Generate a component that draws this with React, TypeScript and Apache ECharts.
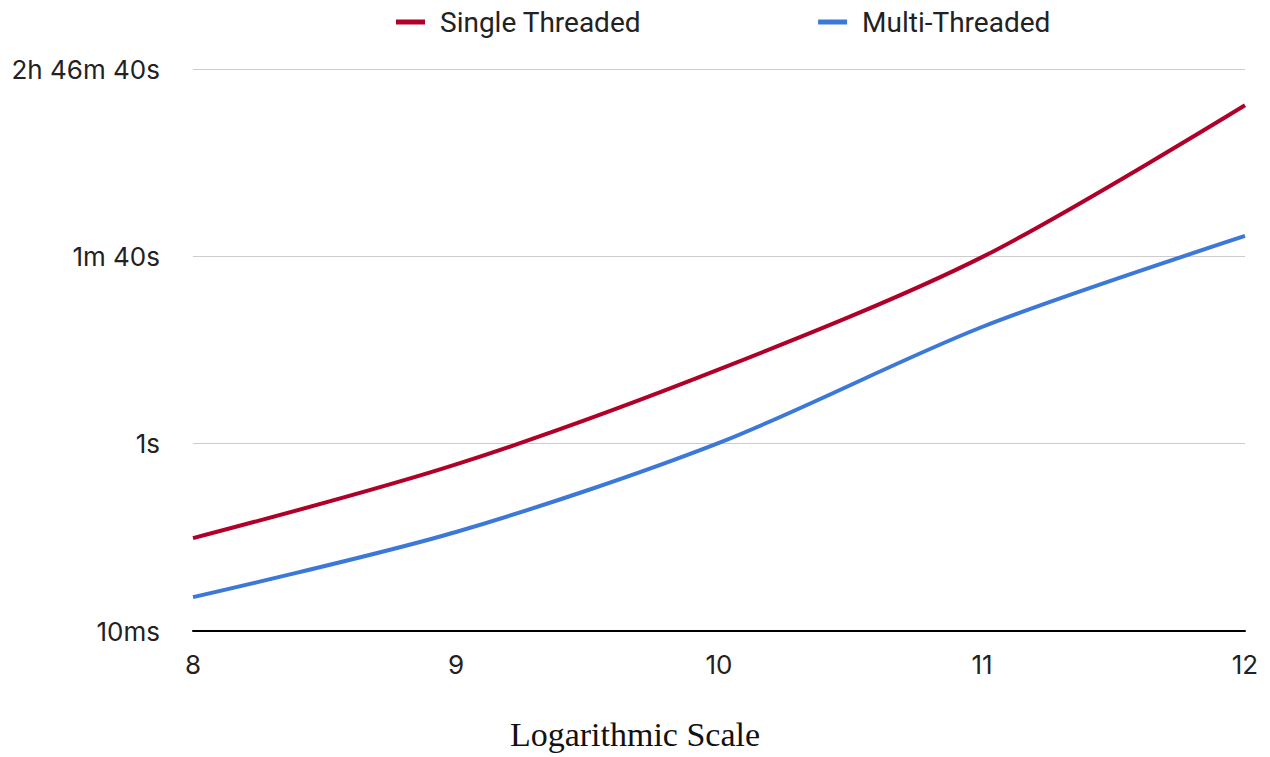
import React, { useEffect, useRef } from "react";
import * as echarts from "echarts";

const categories = ["8", "9", "10", "11", "12"];
const singleThreaded = [0.098, 0.6, 6.2, 98, 4100];
const multiThreaded = [0.023, 0.114, 1.02, 17.6, 165];
const yTickValues = [0.01, 1, 100, 10000];
const yTickLabels = ["10ms", "1s", "1m 40s", "2h 46m 40s"];

export default function App() {
  const ref = useRef<HTMLDivElement>(null);
  useEffect(() => {
    if (!ref.current) return;
    const chart = echarts.init(ref.current, undefined, { renderer: "svg" });
    const labelFor = (v: number) => {
      const lv = Math.log10(v);
      let best = 0;
      let bd = Infinity;
      yTickValues.forEach((t, i) => {
        const d = Math.abs(Math.log10(t) - lv);
        if (d < bd) {
          bd = d;
          best = i;
        }
      });
      return bd < 0.01 ? yTickLabels[best] : "";
    };
    chart.setOption({
      animation: false,
      backgroundColor: "#ffffff",
      legend: {
        top: 8,
        left: 396,
        padding: 0,
        icon: "rect",
        itemWidth: 29,
        itemHeight: 5,
        itemGap: 177,
        textStyle: { fontFamily: "Roboto", fontSize: 28, color: "#222222", padding: [0, 0, 0, 10] },
        data: ["Single Threaded", "Multi-Threaded"],
      },
      grid: { left: 193, right: 25, top: 69, bottom: 126, containLabel: false },
      xAxis: {
        type: "category",
        data: categories,
        boundaryGap: false,
        axisLine: { lineStyle: { color: "#000000", width: 2 } },
        axisTick: { show: false },
        axisLabel: { fontFamily: "Inter", fontSize: 26, color: "#222222", margin: 20 },
      },
      yAxis: {
        type: "log",
        logBase: 100,
        min: 0.01,
        max: 10000,
        axisLine: { show: false },
        axisTick: { show: false },
        splitLine: { lineStyle: { color: "#cccccc", width: 1 } },
        axisLabel: {
          fontFamily: "Inter",
          fontSize: 26,
          color: "#222222",
          margin: 33,
          formatter: (v: number) => labelFor(v),
        },
      },
      graphic: [
        {
          type: "text",
          left: "center",
          top: 717,
          style: {
            text: "Logarithmic Scale",
            font: '34px "Liberation Serif"',
            fill: "#111111",
          },
        },
      ],
      series: [
        {
          name: "Single Threaded",
          type: "line",
          data: singleThreaded,
          smooth: 0.3,
          showSymbol: false,
          lineStyle: { color: "#b0002a", width: 4 },
          itemStyle: { color: "#b0002a" },
        },
        {
          name: "Multi-Threaded",
          type: "line",
          data: multiThreaded,
          smooth: 0.3,
          showSymbol: false,
          lineStyle: { color: "#3c78d8", width: 4 },
          itemStyle: { color: "#3c78d8" },
        },
      ],
    });
    return () => chart.dispose();
  }, []);
  return <div ref={ref} style={{ width: 1270, height: 757, position: "absolute", left: 0, top: 0 }} />;
}
